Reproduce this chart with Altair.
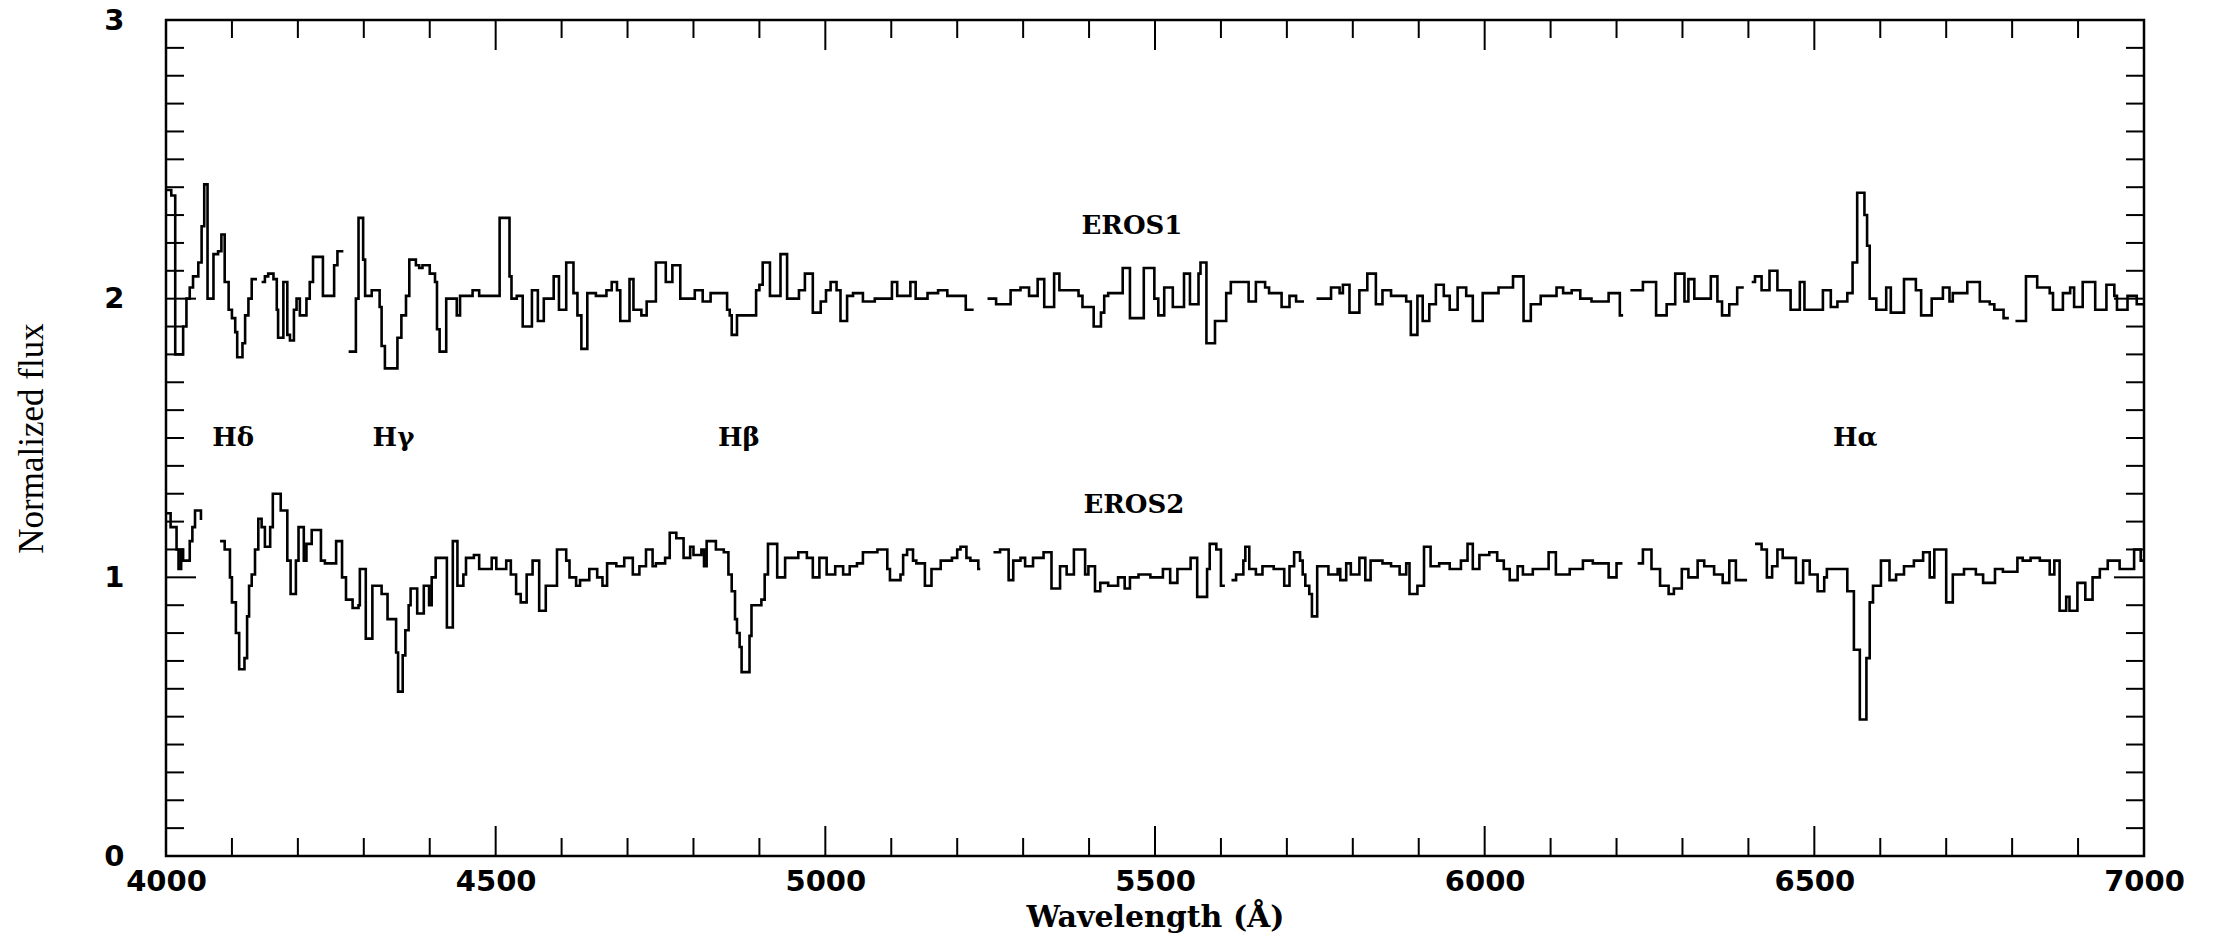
import altair as alt
import pandas as pd

# ---------------- data ----------------
# EROS1 spectrum (step function: each flux holds from its wavelength to the next). None = gap.
wl_eros1 = [4000, 4008, 4014, 4026, 4031, 4036, 4041, 4049, 4054, 4058, 4063, 4072, 4079, 4084, 4089,
            4095, 4100, 4105, 4108, 4116, 4120, 4125, 4130, 4138, 4145, 4150, 4155, 4163, 4168, 4170,
            4178, 4184, 4188, 4194, 4198, 4203, 4213, 4218, 4223, 4238, 4255, 4260, 4269, 4277, 4288,
            4292, 4299, 4302, 4312, 4324, 4327, 4332, 4351, 4357, 4364, 4369, 4379, 4384, 4389, 4400,
            4408, 4411, 4415, 4425, 4441, 4446, 4465, 4475, 4506, 4521, 4524, 4532, 4541, 4555, 4564,
            4573, 4588, 4596, 4607, 4618, 4624, 4630, 4639, 4652, 4668, 4676, 4684, 4689, 4703, 4709,
            4721, 4729, 4743, 4758, 4768, 4780, 4802, 4814, 4826, 4848, 4851, 4855, 4858, 4866, 4895,
            4900, 4905, 4916, 4932, 4942, 4960, 4969, 4981, 4993, 5001, 5008, 5017, 5023, 5033, 5042,
            5057, 5075, 5101, 5109, 5129, 5137, 5155, 5171, 5185, 5213, 5225, 5246, 5259, 5281, 5296,
            5309, 5322, 5332, 5347, 5355, 5384, 5390, 5407, 5418, 5423, 5429, 5451, 5462, 5483, 5499,
            5505, 5514, 5527, 5544, 5553, 5566, 5569, 5578, 5591, 5608, 5615, 5642, 5653, 5667, 5673,
            5692, 5704, 5714, 5726, 5745, 5767, 5780, 5785, 5795, 5810, 5822, 5835, 5845, 5858, 5881,
            5888, 5898, 5906, 5916, 5926, 5938, 5947, 5959, 5972, 5982, 5997, 6021, 6043, 6059, 6070,
            6085, 6109, 6119, 6132, 6145, 6162, 6188, 6205, 6210, 6221, 6240, 6260, 6276, 6289, 6303,
            6309, 6318, 6343, 6353, 6360, 6371, 6383, 6393, 6405, 6410, 6420, 6432, 6444, 6464, 6478,
            6485, 6513, 6525, 6535, 6550, 6558, 6565, 6576, 6580, 6584, 6594, 6609, 6616, 6636, 6654,
            6662, 6678, 6695, 6705, 6710, 6732, 6751, 6766, 6773, 6787, 6795, 6805, 6821, 6838, 6857,
            6862, 6877, 6888, 6894, 6907, 6926, 6943, 6955, 6959, 6975, 6989]
flux_eros1 = [2.39, 2.37, 1.80, 1.90, 2.00, 2.04, 2.08, 2.13, 2.26, 2.41, 2.00, 2.16, 2.17, 2.23, 2.06,
              1.96, 1.93, 1.88, 1.79, 1.84, 1.94, 2.00, 2.07, None, 2.06, 2.08, 2.09, 2.07, 1.96, 1.86,
              2.06, 1.87, 1.85, 1.96, 2.00, 1.94, 2.00, 2.06, 2.15, 2.01, 2.12, 2.17, None, 1.81, 2.00,
              2.29, 2.14, 2.01, 2.03, 1.97, 1.83, 1.75, 1.86, 1.94, 2.01, 2.14, 2.12, 2.11, 2.12, 2.09,
              2.06, 1.89, 1.81, 2.00, 1.94, 2.01, 2.03, 2.01, 2.29, 2.08, 2.00, 2.01, 1.90, 2.03, 1.92,
              2.00, 2.08, 1.96, 2.13, 2.02, 1.94, 1.82, 2.02, 2.01, 2.03, 2.06, 2.03, 1.92, 2.07, 1.96,
              1.94, 1.99, 2.13, 2.06, 2.12, 2.00, 2.03, 1.99, 2.02, 2.02, 1.96, 1.94, 1.87, 1.94, 2.03,
              2.05, 2.13, 2.01, 2.16, 2.00, 2.03, 2.09, 1.95, 1.99, 2.03, 2.06, 2.03, 1.92, 2.01, 2.02,
              1.99, 2.00, 2.06, 2.01, 2.06, 2.00, 2.02, 2.03, 2.01, 1.96, None, 2.00, 1.98, 2.03, 2.04,
              2.01, 2.07, 1.97, 2.09, 2.03, 2.01, 1.97, 1.90, 1.95, 2.01, 2.02, 2.11, 1.93, 2.11, 2.00,
              1.94, 2.04, 1.97, 2.09, 1.98, 2.09, 2.13, 1.84, 1.92, 2.02, 2.06, 1.99, 2.06, 2.04, 2.02,
              1.97, 2.01, 1.99, None, 2.00, 2.04, 2.02, 2.05, 1.95, 2.03, 2.09, 1.98, 2.03, 2.01, 1.99,
              1.87, 2.01, 1.92, 1.98, 2.05, 2.01, 1.96, 2.04, 2.01, 1.92, 2.02, 2.04, 2.08, 1.92, 1.98,
              2.01, 2.04, 2.02, 2.03, 2.00, 1.99, 2.02, 1.94, None, 2.03, 2.06, 1.94, 1.98, 2.09, 1.99,
              2.07, 2.00, 2.08, 1.99, 1.94, 1.98, 2.04, None, 2.06, 2.08, 2.03, 2.10, 2.03, 1.96, 2.06,
              1.96, 2.03, 1.97, 1.99, 2.02, 2.13, 2.38, 2.30, 2.19, 2.00, 1.96, 2.04, 1.95, 2.07, 2.03,
              1.94, 2.00, 2.04, 1.99, 2.02, 2.06, 1.99, 1.98, 1.96, 1.93, None, 1.92, 2.08, 2.04, 2.02,
              1.96, 2.02, 2.04, 1.97, 2.06, 1.96, 2.05, 2.01, 1.96, 2.01, 1.98]

# EROS2 spectrum
wl_eros2 = [4000, 4007, 4016, 4019, 4023, 4026, 4036, 4040, 4044, 4053, 4055, 4082, 4089, 4097, 4100,
            4106, 4111, 4119, 4123, 4126, 4130, 4135, 4140, 4145, 4150, 4158, 4162, 4174, 4184, 4189,
            4197, 4201, 4209, 4213, 4221, 4235, 4241, 4258, 4267, 4273, 4283, 4292, 4294, 4303, 4313,
            4327, 4336, 4349, 4352, 4359, 4363, 4368, 4371, 4381, 4391, 4399, 4403, 4409, 4426, 4435,
            4442, 4451, 4455, 4467, 4475, 4494, 4501, 4516, 4523, 4531, 4538, 4547, 4556, 4566, 4576,
            4593, 4607, 4612, 4622, 4628, 4642, 4654, 4662, 4669, 4683, 4695, 4708, 4718, 4728, 4738,
            4743, 4757, 4764, 4774, 4785, 4795, 4800, 4812, 4816, 4820, 4834, 4846, 4853, 4858, 4863,
            4866, 4870, 4873, 4885, 4888, 4903, 4908, 4913, 4927, 4939, 4959, 4972, 4981, 4991, 5002,
            5015, 5027, 5037, 5048, 5057, 5079, 5094, 5098, 5114, 5118, 5124, 5133, 5138, 5151, 5161,
            5175, 5192, 5200, 5205, 5214, 5220, 5232, 5235, 5255, 5265, 5278, 5285, 5296, 5303, 5315,
            5331, 5343, 5356, 5366, 5377, 5394, 5399, 5409, 5417, 5429, 5444, 5454, 5462, 5475, 5493,
            5512, 5523, 5534, 5554, 5564, 5579, 5583, 5593, 5600, 5606, 5616, 5623, 5634, 5637, 5643,
            5653, 5663, 5680, 5696, 5704, 5711, 5720, 5724, 5728, 5734, 5738, 5746, 5763, 5777, 5781,
            5790, 5797, 5810, 5819, 5827, 5845, 5858, 5871, 5881, 5886, 5898, 5908, 5918, 5931, 5947,
            5964, 5974, 5982, 5992, 6007, 6019, 6029, 6038, 6050, 6058, 6073, 6097, 6108, 6129, 6149,
            6164, 6188, 6200, 6209, 6232, 6240, 6253, 6266, 6279, 6287, 6299, 6309, 6323, 6333, 6348,
            6361, 6371, 6381, 6398, 6410, 6420, 6428, 6436, 6444, 6452, 6472, 6483, 6493, 6505, 6515,
            6519, 6550, 6560, 6569, 6579, 6584, 6589, 6601, 6614, 6624, 6636, 6651, 6665, 6675, 6682,
            6700, 6710, 6727, 6745, 6756, 6774, 6786, 6808, 6816, 6828, 6842, 6857, 6864, 6872, 6882,
            6887, 6899, 6911, 6922, 6933, 6945, 6963, 6985, 6995]
flux_eros2 = [1.23, 1.18, 1.10, 1.03, 1.10, 1.06, 1.13, 1.18, 1.24, 1.21, None, 1.13, 1.10, 1.00, 0.91,
              0.80, 0.67, 0.71, 0.86, 0.97, 1.01, 1.10, 1.21, 1.18, 1.11, 1.18, 1.30, 1.24, 1.06, 0.94,
              1.06, 1.18, 1.06, 1.12, 1.17, 1.06, 1.05, 1.13, 1.00, 0.92, 0.89, 0.90, 1.03, 0.78, 0.97,
              0.94, 0.85, 0.73, 0.59, 0.72, 0.81, 0.90, 0.96, 0.87, 0.97, 0.90, 1.00, 1.07, 0.82, 1.13,
              0.97, 1.01, 1.07, 1.08, 1.03, 1.07, 1.03, 1.06, 1.01, 0.94, 0.91, 1.01, 1.06, 0.88, 0.97,
              1.10, 1.06, 1.00, 0.97, 0.99, 1.03, 1.00, 0.97, 1.05, 1.04, 1.07, 1.01, 1.04, 1.10, 1.04,
              1.05, 1.07, 1.16, 1.14, 1.07, 1.11, 1.08, 1.10, 1.04, 1.13, 1.10, 1.09, 1.01, 0.95, 0.85,
              0.80, 0.75, 0.66, 0.79, 0.90, 0.92, 1.01, 1.12, 1.00, 1.07, 1.09, 1.07, 1.00, 1.07, 1.01,
              1.04, 1.01, 1.04, 1.05, 1.09, 1.10, 1.03, 0.99, 1.01, 1.08, 1.10, 1.06, 1.05, 0.97, 1.03,
              1.06, 1.07, 1.10, 1.11, 1.07, 1.06, 1.03, None, 1.09, 1.10, 0.99, 1.06, 1.07, 1.04, 1.07,
              1.09, 0.96, 1.04, 1.01, 1.10, 1.01, 1.04, 0.95, 0.98, 0.97, 1.00, 0.96, 1.00, 1.01, 1.00,
              1.03, 0.98, 1.03, 1.07, 0.93, 1.03, 1.12, 1.10, 0.97, None, 0.99, 1.01, 1.06, 1.11, 1.03,
              1.01, 1.04, 1.03, 0.97, 1.04, 1.09, 1.06, 1.01, 0.97, 0.94, 0.86, 1.04, 1.01, 1.03, 0.99,
              1.05, 1.01, 1.07, 0.99, 1.06, 1.05, 1.04, 1.01, 1.05, 0.94, 0.97, 1.11, 1.04, 1.05, 1.03,
              1.06, 1.12, 1.03, 1.08, 1.09, 1.06, 1.03, 0.99, 1.04, 1.01, 1.03, 1.09, 1.01, 1.03, 1.06,
              1.05, 1.00, 1.05, None, 1.05, 1.10, 1.03, 0.97, 0.94, 0.96, 1.03, 1.00, 1.06, 1.04, 1.01,
              0.98, 1.06, 0.99, None, 1.12, 1.10, 1.00, 1.04, 1.10, 1.07, 0.98, 1.06, 1.01, 0.95, 1.00,
              1.03, 0.95, 0.74, 0.49, 0.71, 0.91, 0.97, 1.06, 0.99, 1.01, 1.04, 1.06, 1.09, 1.00, 1.10,
              0.91, 1.01, 1.03, 1.01, 0.98, 1.03, 1.02, 1.07, 1.06, 1.07, 1.06, 1.01, 1.06, 0.88, 0.93,
              0.88, 0.98, 0.92, 1.00, 1.03, 1.06, 1.03, 1.10, 1.06]

WL_MIN, WL_MAX = 4000, 7000
FLUX_MIN, FLUX_MAX = 0, 3

x_labels = [4000, 4500, 5000, 5500, 6000, 6500, 7000]
y_labels = [0, 1, 2, 3]
x_major_ticks = [4500, 5000, 5500, 6000, 6500]
x_minor_ticks = [4100, 4200, 4300, 4400, 4600, 4700, 4800, 4900, 5100, 5200, 5300, 5400,
                 5600, 5700, 5800, 5900, 6100, 6200, 6300, 6400, 6600, 6700, 6800, 6900]
y_major_ticks = [1, 2]
y_minor_ticks = [0.1, 0.2, 0.3, 0.4, 0.5, 0.6, 0.7, 0.8, 0.9,
                 1.1, 1.2, 1.3, 1.4, 1.5, 1.6, 1.7, 1.8, 1.9,
                 2.1, 2.2, 2.3, 2.4, 2.5, 2.6, 2.7, 2.8, 2.9]

label_text = ["EROS1", "EROS2", "Hδ", "Hγ", "Hβ", "Hα"]
label_wl = [5465, 5468, 4102, 4345, 4869, 6562]
label_flux = [2.26, 1.26, 1.50, 1.50, 1.50, 1.50]

# ---------------- build tables ----------------
def build(wls, fxs, name):
    rows, seg, prev = [], 0, None
    for w, f in zip(wls, fxs):
        if f is None:
            if prev is not None:
                rows.append(dict(wl=w, flux=prev, seg=f"{name}-{seg}"))
            seg += 1
            prev = None
        else:
            rows.append(dict(wl=w, flux=f, seg=f"{name}-{seg}"))
            prev = f
    if prev is not None:
        rows.append(dict(wl=WL_MAX, flux=prev, seg=f"{name}-{seg}"))
    return rows

spec = pd.DataFrame(build(wl_eros1, flux_eros1, "EROS1") + build(wl_eros2, flux_eros2, "EROS2"))
labels = pd.DataFrame({"text": label_text, "wl": label_wl, "flux": label_flux})

W, H = 1978, 836
MINOR, MAJOR = 18, 30

xs = alt.Scale(domain=[WL_MIN, WL_MAX], nice=False, zero=False)
ys = alt.Scale(domain=[FLUX_MIN, FLUX_MAX], nice=False, zero=False)

x_axis = alt.Axis(values=x_labels, format="d", ticks=False, domain=False, grid=False,
                  labelFont="DejaVu Sans", labelFontWeight="bold", labelFontSize=29,
                  labelColor="black", labelPadding=11, labelFlush=False, labelOverlap=False,
                  title="Wavelength (Å)", titleFont="DejaVu Serif", titleFontWeight="bold",
                  titleFontSize=30, titleColor="black", titleY=61, titleBaseline="middle")
y_axis = alt.Axis(values=y_labels, format="d", ticks=False, domain=False, grid=False,
                  labelFont="DejaVu Sans", labelFontWeight="bold", labelFontSize=29,
                  labelColor="black", labelPadding=42, labelFlush=False, labelOverlap=False,
                  title="Normalized flux", titleFont="Liberation Serif", titleFontWeight="normal",
                  titleFontSize=35, titleColor="black", titleX=-135, titleBaseline="middle")

spectra = alt.Chart(spec).mark_line(interpolate="step-after", color="black", strokeWidth=2.6).encode(
    x=alt.X("wl:Q", scale=xs, axis=x_axis),
    y=alt.Y("flux:Q", scale=ys, axis=y_axis),
    detail="seg:N",
)

def xticks(vals, length):
    d = pd.DataFrame({"pos": vals})
    base = alt.Chart(d).mark_rule(color="black", strokeWidth=2)
    bottom = base.encode(x=alt.X("pos:Q", scale=xs, axis=x_axis), y=alt.value(H), y2=alt.value(H - length))
    top = base.encode(x=alt.X("pos:Q", scale=xs, axis=x_axis), y=alt.value(0), y2=alt.value(length))
    return [bottom, top]

def yticks(vals, length):
    d = pd.DataFrame({"pos": vals})
    base = alt.Chart(d).mark_rule(color="black", strokeWidth=2)
    left = base.encode(y=alt.Y("pos:Q", scale=ys, axis=y_axis), x=alt.value(0), x2=alt.value(length))
    right = base.encode(y=alt.Y("pos:Q", scale=ys, axis=y_axis), x=alt.value(W), x2=alt.value(W - length))
    return [left, right]

texts = alt.Chart(labels).mark_text(font="DejaVu Serif", fontWeight="bold", fontSize=26,
                                    color="black", align="center", baseline="middle").encode(
    x=alt.X("wl:Q", scale=xs, axis=x_axis),
    y=alt.Y("flux:Q", scale=ys, axis=y_axis),
    text="text:N",
)

layers = ([spectra] + xticks(x_minor_ticks, MINOR) + xticks(x_major_ticks, MAJOR)
          + yticks(y_minor_ticks, MINOR) + yticks(y_major_ticks, MAJOR) + [texts])

chart = alt.layer(*layers).properties(
    width=W, height=H,
    autosize=alt.AutoSizeParams(type="none"),
    padding={"left": 166, "top": 20, "right": 85, "bottom": 77},
    background="white",
).configure_view(stroke="black", strokeWidth=2.5)

chart.save("out.html", embed_options={"renderer": "svg", "actions": False})
